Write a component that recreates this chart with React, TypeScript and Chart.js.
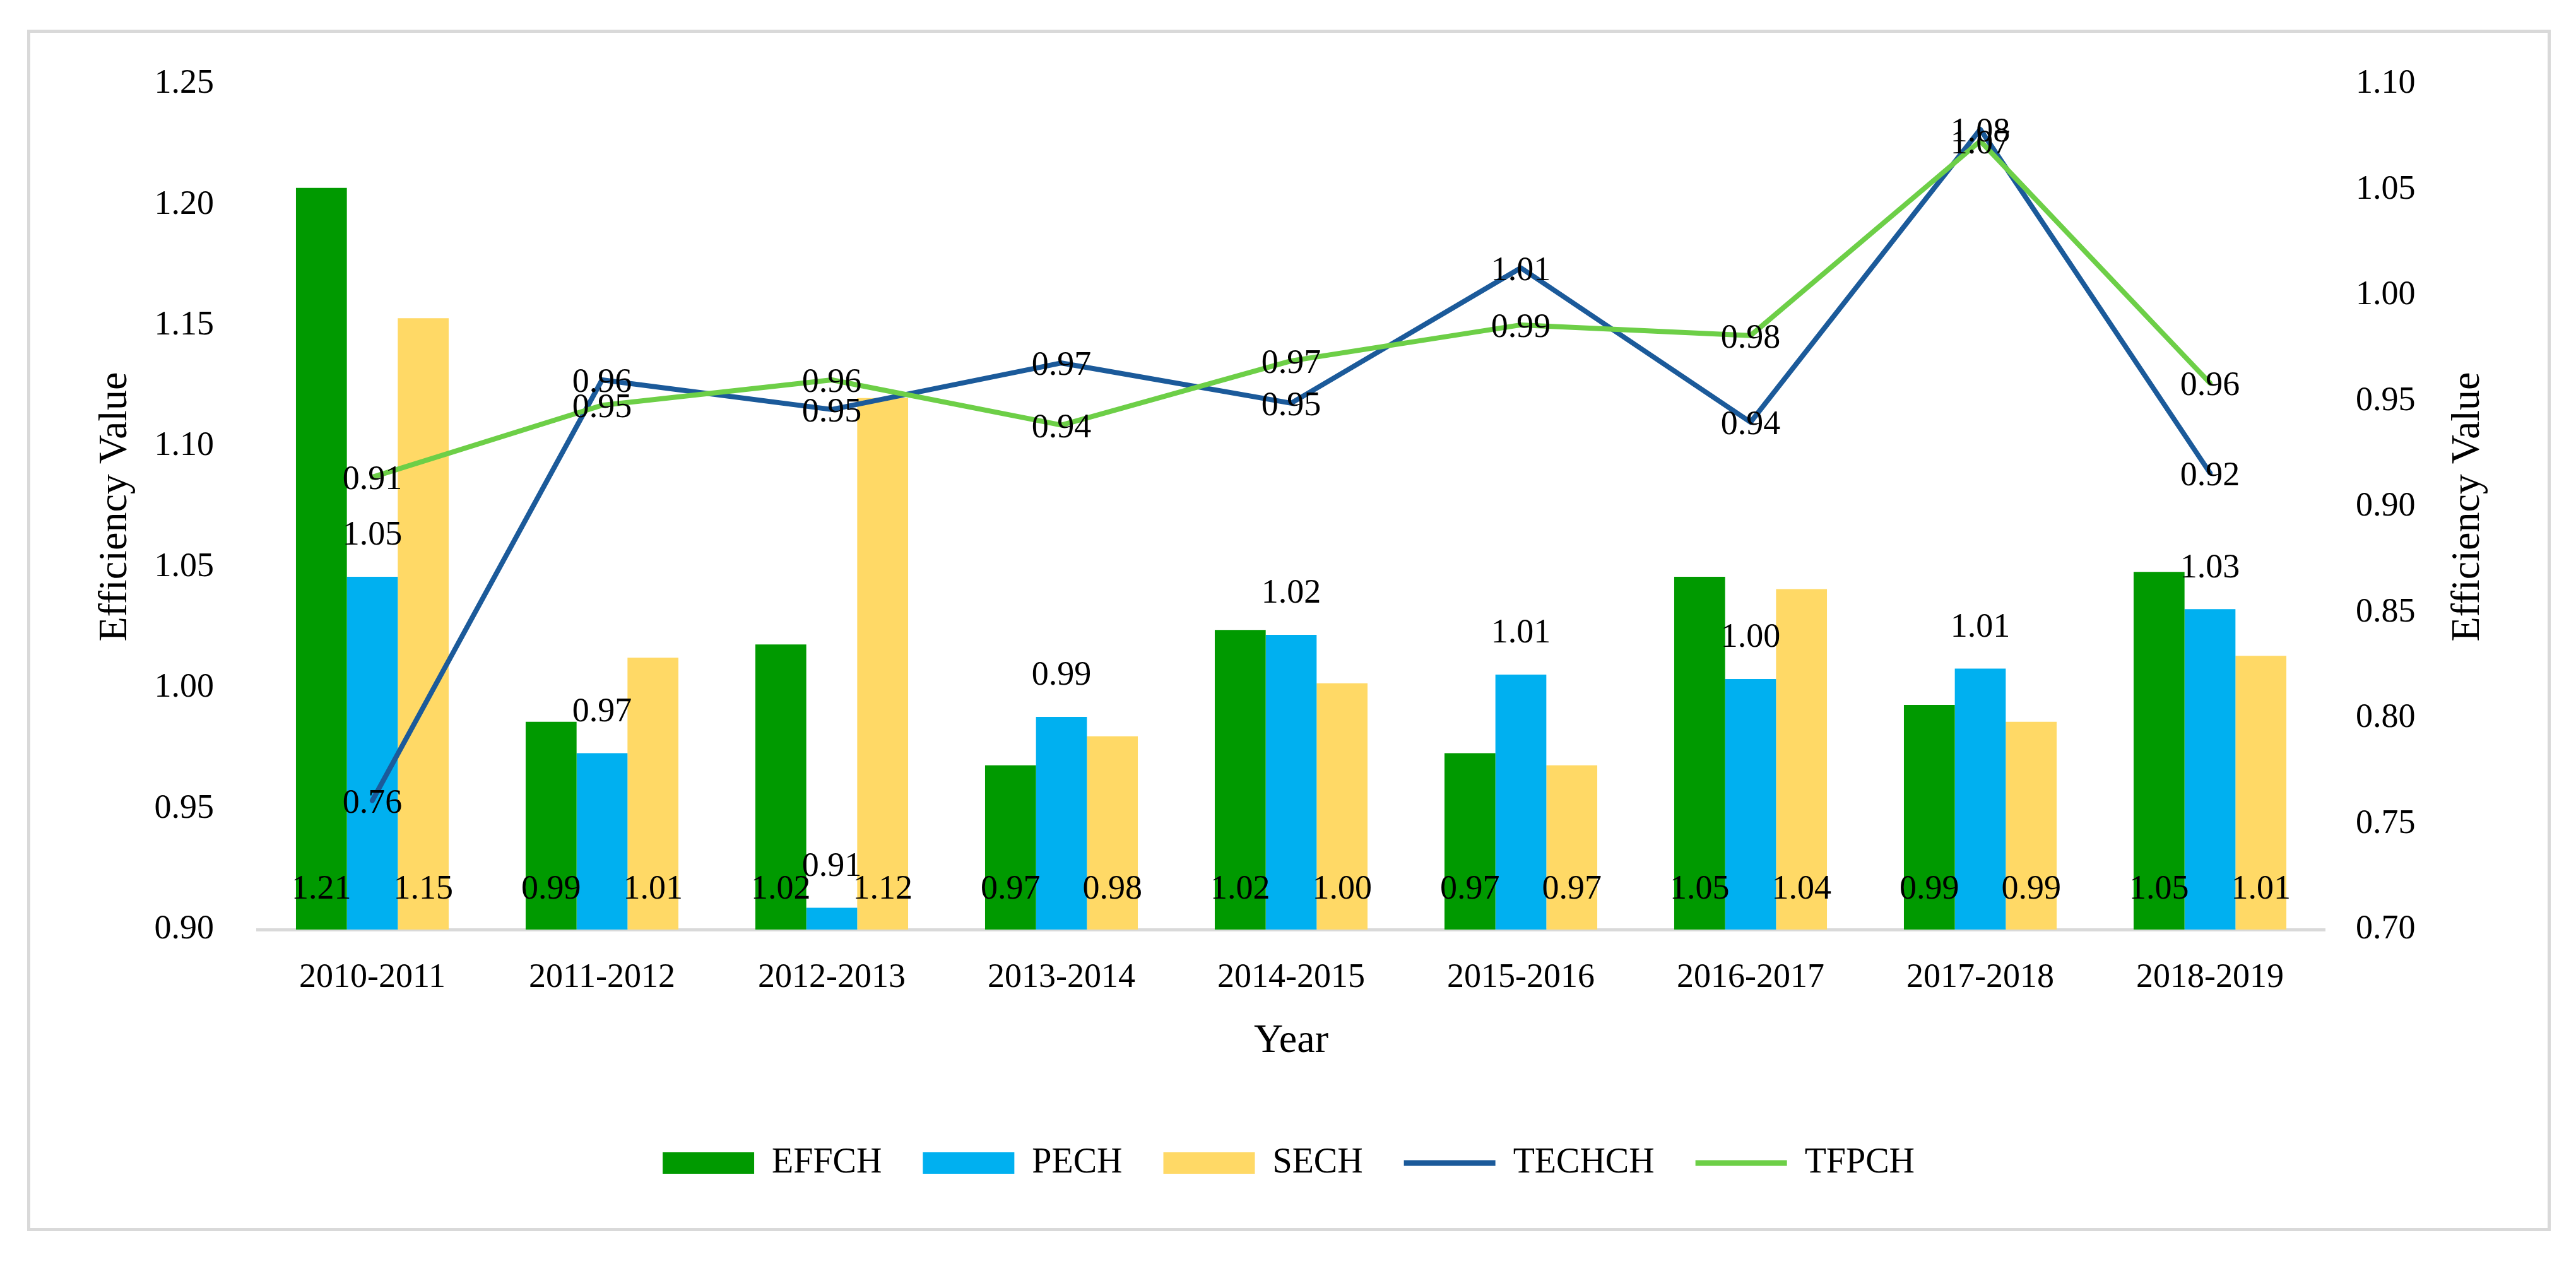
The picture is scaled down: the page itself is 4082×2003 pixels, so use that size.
import React, { useEffect, useRef } from 'react';
import { Chart, registerables } from 'chart.js';

Chart.register(...registerables);

// ---- data ----
const categories = ['2010-2011', '2011-2012', '2012-2013', '2013-2014', '2014-2015', '2015-2016', '2016-2017', '2017-2018', '2018-2019'];
const effch = [1.207, 0.986, 1.018, 0.968, 1.024, 0.973, 1.046, 0.993, 1.048];
const pech = [1.046, 0.973, 0.909, 0.988, 1.022, 1.0055, 1.0037, 1.008, 1.0326];
const sech = [1.153, 1.0125, 1.12, 0.98, 1.0019, 0.968, 1.0409, 0.986, 1.0133];
const techch = [0.761, 0.96, 0.946, 0.968, 0.949, 1.013, 0.94, 1.0785, 0.916];
const tfpch = [0.914, 0.948, 0.96, 0.9386, 0.969, 0.986, 0.981, 1.073, 0.9585];
const seriesNames = ['EFFCH', 'PECH', 'SECH', 'TECHCH', 'TFPCH'];
const leftAxisRange = [0.9, 1.25];
const rightAxisRange = [0.7, 1.1];
const tickStep = 0.05;
const xTitle = 'Year';
const yTitle = 'Efficiency Value';

// ---- styles ----
const FONT = "'Liberation Serif', 'Times New Roman', serif";
const COLORS = ['#009A00', '#00B0F0', '#FFD966', '#1B5A9A', '#6DCF47'];
const GRAY = '#D9D9D9';
// label placement per bar series: 'base' = inside base, 'top' = above bar
const barLabelPlacement = ['base', 'top', 'base'];

const framePlugin = {
  id: 'frame',
  beforeDraw(chart: any) {
    const { ctx, width, height } = chart;
    ctx.save();
    ctx.fillStyle = '#ffffff';
    ctx.fillRect(0, 0, width, height);
    ctx.strokeStyle = GRAY;
    ctx.lineWidth = 5;
    ctx.strokeRect(45.5, 49.5, width - 45 - 43, height - 49 - 55);
    ctx.restore();
  },
};

const valueLabelPlugin = {
  id: 'valueLabels',
  afterDatasetsDraw(chart: any) {
    const { ctx } = chart;
    ctx.save();
    ctx.font = `54px ${FONT}`;
    ctx.fillStyle = '#000000';
    ctx.textAlign = 'center';
    ctx.textBaseline = 'middle';
    chart.data.datasets.forEach((ds: any, di: number) => {
      const meta = chart.getDatasetMeta(di);
      const yScale = chart.scales[ds.yAxisID];
      const basePix = yScale.getPixelForValue(yScale.min);
      meta.data.forEach((el: any, i: number) => {
        const v = ds.data[i] as number;
        const text = v.toFixed(2);
        const px = el.x;
        const py = yScale.getPixelForValue(v);
        if (ds.type === 'line') {
          ctx.fillText(text, px, py + 5);
        } else {
          const place = barLabelPlacement[di];
          const y = place === 'top' ? py - 65 : basePix - 63;
          ctx.fillText(text, px, y);
        }
      });
    });
    ctx.restore();
  },
};

const rightTitlePlugin = {
  id: 'rightTitle',
  afterDraw(chart: any) {
    const { ctx, chartArea } = chart;
    const s = chart.scales.y1;
    ctx.save();
    ctx.font = `64px ${FONT}`;
    ctx.fillStyle = '#000000';
    ctx.textAlign = 'center';
    ctx.textBaseline = 'middle';
    ctx.translate(s.left + 227, (chartArea.top + chartArea.bottom) / 2);
    ctx.rotate(-Math.PI / 2);
    ctx.fillText(yTitle, 0, 0);
    ctx.restore();
  },
};

export default function App() {
  const ref = useRef<HTMLCanvasElement>(null);

  useEffect(() => {
    document.body.style.margin = '0';
    const canvas = ref.current;
    if (!canvas) return;
    const barSets = [effch, pech, sech].map((d, i) => ({
      type: 'bar' as const,
      label: seriesNames[i],
      data: d,
      backgroundColor: COLORS[i],
      borderWidth: 0,
      yAxisID: 'y',
      order: 2,
      categoryPercentage: 0.665,
      barPercentage: 1.0,
    }));
    const lineSets = [techch, tfpch].map((d, j) => ({
      type: 'line' as const,
      label: seriesNames[3 + j],
      data: d,
      borderColor: COLORS[3 + j],
      backgroundColor: COLORS[3 + j],
      borderWidth: 8,
      pointRadius: 0,
      pointHoverRadius: 0,
      tension: 0,
      borderJoinStyle: 'round' as const,
      borderCapStyle: 'round' as const,
      yAxisID: 'y1',
      order: j === 0 ? 1 : 0,
    }));

    const chart = new Chart(canvas, {
      data: { labels: categories, datasets: [...barSets, ...lineSets] as any },
      options: {
        animation: false,
        responsive: false,
        devicePixelRatio: 1,
        layout: { padding: { left: 45, right: 43, top: 133, bottom: 122 } },
        plugins: {
          tooltip: { enabled: false },
          legend: {
            position: 'bottom',
            labels: {
              usePointStyle: true,
              pointStyleWidth: 145,
              boxHeight: 34,
              padding: 65,
              color: '#000000',
              font: { family: FONT, size: 56 },
              generateLabels: (ch: any) =>
                ch.data.datasets.map((ds: any, i: number) => {
                  const isLine = ds.type === 'line';
                  return {
                    text: ds.label,
                    datasetIndex: i,
                    fillStyle: isLine ? ds.borderColor : ds.backgroundColor,
                    strokeStyle: isLine ? ds.borderColor : ds.backgroundColor,
                    lineWidth: isLine ? 9 : 0,
                    lineCap: 'butt',
                    pointStyle: isLine ? 'line' : 'rect',
                    hidden: false,
                    fontColor: '#000000',
                  };
                }),
            },
          },
        },
        scales: {
          x: {
            type: 'category',
            grid: { display: false, drawTicks: false },
            border: { display: true, color: GRAY, width: 5 },
            ticks: { padding: 44, color: '#000000', font: { family: FONT, size: 54 }, maxRotation: 0, autoSkip: false },
            title: { display: true, text: xTitle, color: '#000000', font: { family: FONT, size: 64 }, padding: { top: 0, bottom: 61 } },
            afterFit: (s: any) => { s.height = 277; },
          },
          y: {
            type: 'linear',
            position: 'left',
            min: leftAxisRange[0],
            max: leftAxisRange[1],
            grid: { display: false, drawTicks: false },
            border: { display: false },
            ticks: {
              stepSize: tickStep,
              padding: 69,
              color: '#000000',
              font: { family: FONT, size: 54 },
              callback: (v: any) => Number(v).toFixed(2),
            },
            title: { display: true, text: yTitle, color: '#000000', font: { family: FONT, size: 64 }, padding: { top: 100, bottom: 0 } },
            afterFit: (s: any) => { s.width = 363; },
          },
          y1: {
            type: 'linear',
            position: 'right',
            min: rightAxisRange[0],
            max: rightAxisRange[1],
            grid: { display: false, drawTicks: false },
            border: { display: false },
            ticks: {
              stepSize: tickStep,
              padding: 49,
              color: '#000000',
              font: { family: FONT, size: 54 },
              callback: (v: any) => Number(v).toFixed(2),
            },
            afterFit: (s: any) => { s.width = 355; },
          },
        },
      },
      plugins: [framePlugin, valueLabelPlugin, rightTitlePlugin],
    });
    return () => chart.destroy();
  }, []);

  return (
    <div style={{ width: 4082, height: 2003 }}>
      <canvas ref={ref} width={4082} height={2003} style={{ display: 'block', width: 4082, height: 2003 }} />
    </div>
  );
}
